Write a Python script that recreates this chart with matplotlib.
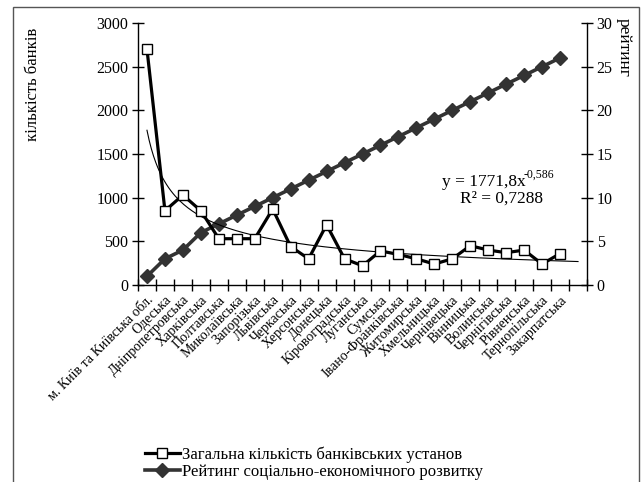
import matplotlib
matplotlib.use('Agg')
import matplotlib.pyplot as plt
import numpy as np
from matplotlib.patches import Rectangle

plt.rcParams['font.family'] = ['Liberation Serif', 'DejaVu Serif']

# regions, ordered as in the source chart
regions = ['м. Київ та Київська обл.', 'Одеська', 'Дніпропетровська', 'Харківська',
           'Полтавська', 'Миколаївська', 'Запорізька', 'Львівська', 'Черкаська',
           'Херсонська', 'Донецька', 'Кіровоградська', 'Луганська', 'Сумська',
           'Івано-Франківська', 'Житомирська', 'Хмельницька', 'Чернівецька',
           'Вінницька', 'Волинська', 'Чернігівська', 'Рівненська', 'Тернопільська',
           'Закарпатська']

# total number of bank institutions
banks = [2700, 850, 1030, 850, 530, 530, 530, 870, 440, 300, 690, 300, 220, 390,
         350, 300, 240, 300, 450, 400, 370, 400, 240, 360]

# socio-economic development rating
rating = [1, 3, 4, 6, 7, 8, 9, 10, 11, 12, 13, 14, 15, 16, 17, 18, 19, 20, 21,
          22, 23, 24, 25, 26]

# power trendline shown on the chart
trend_a = 1771.8
trend_b = -0.586
trend_end = 25

x = np.arange(1, len(regions) + 1)

fig = plt.figure(figsize=(6.41, 4.82), dpi=100)
ax = fig.add_axes([138 / 641, 1 - 285 / 482, (587 - 138) / 641, (285 - 23) / 482])
ax2 = ax.twinx()

# outer frame of the picture
fig.patches.append(Rectangle((13 / 641, -0.05), (639 - 13) / 641, 1.05 - 7 / 482,
                             transform=fig.transFigure, fill=False,
                             edgecolor='#555555', linewidth=1.0))

l2, = ax2.plot(x, rating, color='#333333', linewidth=2.6, marker='D', markersize=7,
               markerfacecolor='#333333', markeredgecolor='#333333',
               label='Рейтинг соціально-економічного розвитку', zorder=2)

l1, = ax.plot(x, banks, color='black', linewidth=2.3, marker='s', markersize=6.5,
              markerfacecolor='white', markeredgecolor='black', markeredgewidth=1,
              label='Загальна кількість банківських установ', zorder=5)
ax.set_zorder(ax2.get_zorder() + 1)
ax.patch.set_visible(False)

xt = np.linspace(1, trend_end, 200)
ax.plot(xt, trend_a * xt ** trend_b, color='black', linewidth=0.8, zorder=3)

ax.set_xlim(0.5, 25.5)
ax.set_ylim(0, 3000)
ax2.set_ylim(0, 30)
ax.set_yticks(np.arange(0, 3001, 500))
ax2.set_yticks(np.arange(0, 31, 5))

# tick marks between categories, labels under category centres
ax.set_xticks(np.arange(0.5, 26, 1), minor=False)
ax.set_xticklabels([])
ax.set_xticks(x, minor=True)
ax.set_xticklabels(regions, minor=True, rotation=45, ha='right', va='top',
                   rotation_mode='anchor', fontsize=10)
ax.tick_params(axis='x', which='minor', length=0, pad=6)
ax.tick_params(axis='x', which='major', direction='inout', length=8, width=1)

ax.tick_params(axis='y', direction='inout', length=8, width=1, labelsize=11.5, pad=3)
ax2.tick_params(axis='y', direction='inout', length=8, width=1, labelsize=11.5, pad=3)

for a in (ax, ax2):
    a.spines['top'].set_visible(False)
    for s in a.spines.values():
        s.set_linewidth(1)
ax.spines['right'].set_visible(False)
ax2.spines['left'].set_visible(False)
ax2.spines['bottom'].set_visible(False)

fig.text(33 / 641, 1 - 84 / 482, 'кількість банків', rotation=90,
         ha='center', va='center', fontsize=12)
fig.text(624 / 641, 1 - 47 / 482, 'рейтинг', rotation=-90,
         ha='center', va='center', fontsize=12.5)

eq = fig.text(442 / 641, 1 - 182 / 482, 'y = 1771,8x',
              ha='left', va='center', fontsize=12.5)
ax.annotate('-0,586', xy=(1, 0.55), xycoords=eq, xytext=(-1.5, 0),
            textcoords='offset points', ha='left', va='bottom', fontsize=8.5)
fig.text(501 / 641, 1 - 199 / 482, 'R² = 0,7288',
         ha='center', va='center', fontsize=12.5)

fig.legend(handles=[l1, l2], loc='upper left',
           bbox_to_anchor=(138 / 641, 1 - 440 / 482), frameon=False,
           fontsize=12, handlelength=2.1, handletextpad=0.15,
           labelspacing=0.05, borderaxespad=0)

fig.savefig('out.png', dpi=100)
